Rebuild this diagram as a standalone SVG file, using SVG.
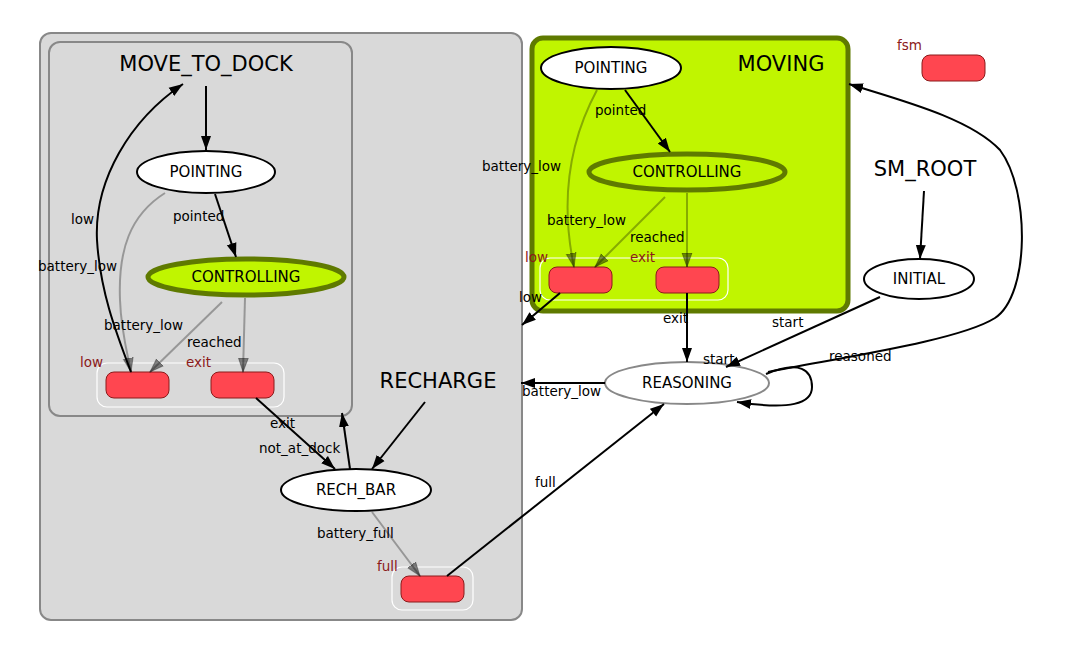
<svg xmlns="http://www.w3.org/2000/svg" width="1070" height="656" viewBox="0 0 1070 656">
<style>
text{font-family:"DejaVu Sans","Liberation Sans",sans-serif;fill:#000}
.big{font-size:21px}
.nl{font-size:15px;text-anchor:middle}
.el{font-size:13.5px}
.ol{font-size:13.5px;fill:#8b1a1a}
.e{fill:none;stroke:#000;stroke-width:2}
.eg{fill:none;stroke:#000;stroke-opacity:0.3;stroke-width:2}
.st{fill:#fff;stroke:#000;stroke-width:2}
.ctl{fill:#c0f500;stroke:#5f7a00;stroke-width:5}
.ob{fill:#ff4650;stroke:#8b1a1a;stroke-width:1}
.oc{fill:none;stroke:#fff;stroke-width:1.2}
</style>
<defs>
<marker id="a" markerUnits="userSpaceOnUse" markerWidth="16" markerHeight="12" refX="14" refY="6" orient="auto"><path d="M0,1 L14,6 L0,11 Z" fill="#000"/></marker>
<marker id="ag" markerUnits="userSpaceOnUse" markerWidth="16" markerHeight="12" refX="14" refY="6" orient="auto"><path d="M0,1 L14,6 L0,11 Z" fill="#000" fill-opacity="0.45" stroke="#000" stroke-opacity="0.3"/></marker>
</defs>
<rect width="1070" height="656" fill="#fff"/>

<g id="RECHARGE">
<rect x="40" y="33" width="482" height="587" rx="11" fill="#d9d9d9" stroke="#888" stroke-width="2"/>
<text class="big" x="438" y="388" text-anchor="middle">RECHARGE</text>
</g>
<g id="MOVE_TO_DOCK">
<rect x="49" y="42" width="303" height="374" rx="11" fill="#d9d9d9" stroke="#888" stroke-width="2"/>
<text class="big" x="206" y="71" text-anchor="middle">MOVE_TO_DOCK</text>
</g>
<g id="MOVING">
<rect x="532" y="38" width="316" height="273" rx="11" fill="#c0f500" stroke="#5f7a00" stroke-width="5"/>
<text class="big" x="781" y="71" text-anchor="middle">MOVING</text>
</g>
<g id="SM_ROOT">
<text class="big" x="925" y="176" text-anchor="middle">SM_ROOT</text>
</g>

<g id="outcomes">
<g id="mtd_outcomes">
<rect class="oc" x="97" y="363" width="187" height="44" rx="10"/>
<rect class="ob" x="106" y="372" width="63" height="26" rx="8"/>
<rect class="ob" x="211" y="372" width="63" height="26" rx="8"/>
<text class="ol" x="80" y="367">low</text>
<text class="ol" x="186" y="367">exit</text>
</g>
<g id="mv_outcomes">
<rect class="oc" x="540" y="258" width="188" height="42" rx="10"/>
<rect class="ob" x="549" y="267" width="63" height="26" rx="8"/>
<rect class="ob" x="656" y="267" width="63" height="26" rx="8"/>
<text class="ol" x="525" y="262">low</text>
<text class="ol" x="630" y="262">exit</text>
</g>
<g id="rc_outcomes">
<rect class="oc" x="392" y="567" width="81" height="43" rx="10"/>
<rect class="ob" x="401" y="576" width="63" height="26" rx="8"/>
<text class="ol" x="377" y="571">full</text>
</g>
<g id="fsm_outcome">
<rect class="ob" x="922" y="55" width="63" height="26" rx="8"/>
<text class="ol" x="897" y="50">fsm</text>
</g>
</g>

<g id="nodes">
<g id="MTD_POINTING"><ellipse class="st" cx="206" cy="172" rx="69" ry="21"/><text class="nl" x="206" y="177">POINTING</text></g>
<g id="MTD_CONTROLLING"><ellipse class="ctl" cx="246" cy="277" rx="98" ry="18"/><text class="nl" x="246" y="282">CONTROLLING</text></g>
<g id="RECH_BAR"><ellipse class="st" cx="356" cy="490" rx="75" ry="21"/><text class="nl" x="356" y="495">RECH_BAR</text></g>
<g id="MV_POINTING"><ellipse class="st" cx="611" cy="68" rx="70" ry="21"/><text class="nl" x="611" y="73">POINTING</text></g>
<g id="MV_CONTROLLING"><ellipse class="ctl" cx="687" cy="172" rx="98" ry="18"/><text class="nl" x="687" y="177">CONTROLLING</text></g>
<g id="REASONING"><ellipse cx="687" cy="383" rx="82" ry="21" fill="#fff" stroke="#888" stroke-width="2"/><text class="nl" x="687" y="388">REASONING</text></g>
<g id="INITIAL"><ellipse class="st" cx="919" cy="279" rx="55" ry="20"/><text class="nl" x="919" y="284">INITIAL</text></g>
</g>

<g id="connectors">
<path class="e" d="M206,86 L206,150" marker-end="url(#a)"/>
<path class="e" d="M215,194 L236,257" marker-end="url(#a)"/>
<path class="eg" d="M222,302 L150,372" marker-end="url(#ag)"/>
<path class="eg" d="M245,298 L243,372" marker-end="url(#ag)"/>
<path class="eg" d="M165,193 C130,215 118,250 120,300 C121,330 127,352 131,372" marker-end="url(#ag)"/>
<path class="e" d="M131,372 C115,330 100,290 97,240 C94,180 130,120 183,84" marker-end="url(#a)"/>
<path class="e" d="M256,398 L335,469" marker-end="url(#a)"/>
<path class="e" d="M350,469 L342,413" marker-end="url(#a)"/>
<path class="e" d="M425,402 L372,469" marker-end="url(#a)"/>
<path class="eg" d="M372,512 L420,576" marker-end="url(#ag)"/>
<path class="e" d="M447,576 L664,404" marker-end="url(#a)"/>
<path class="e" d="M625,90 L670,152" marker-end="url(#a)"/>
<path class="eg" d="M597,90 C570,140 560,200 574,267" marker-end="url(#ag)"/>
<path class="eg" d="M665,197 L595,267" marker-end="url(#ag)"/>
<path class="eg" d="M687,193 L687,267" marker-end="url(#ag)"/>
<path class="e" d="M560,293 L522,325" marker-end="url(#a)"/>
<path class="e" d="M687,293 L687,362" marker-end="url(#a)"/>
<path class="e" d="M924,191 L920,259" marker-end="url(#a)"/>
<path class="e" d="M880,297 L726,367" marker-end="url(#a)"/>
<path class="e" d="M605,383 L521,383" marker-end="url(#a)"/>
<path class="e" d="M766,374 C800,360 812,370 812,387 C812,404 790,410 737,402" marker-end="url(#a)"/>
<path class="e" d="M768,372 C850,356 960,340 995,318 C1030,295 1030,190 1000,150 C970,118 900,100 849,84" marker-end="url(#a)"/>
</g>

<g id="edge_labels">
<text class="el" x="173" y="221">pointed</text>
<text class="el" x="71" y="224">low</text>
<text class="el" x="38" y="271">battery_low</text>
<text class="el" x="104" y="330">battery_low</text>
<text class="el" x="187" y="347">reached</text>
<text class="el" x="270" y="428">exit</text>
<text class="el" x="259" y="453">not_at_dock</text>
<text class="el" x="317" y="538">battery_full</text>
<text class="el" x="535" y="487">full</text>
<text class="el" x="595" y="115">pointed</text>
<text class="el" x="482" y="171">battery_low</text>
<text class="el" x="547" y="225">battery_low</text>
<text class="el" x="630" y="242">reached</text>
<text class="el" x="519" y="302">low</text>
<text class="el" x="663" y="323">exit</text>
<text class="el" x="772" y="327">start</text>
<text class="el" x="703" y="364">start</text>
<text class="el" x="829" y="361">reasoned</text>
<text class="el" x="522" y="396">battery_low</text>
</g>
</svg>
